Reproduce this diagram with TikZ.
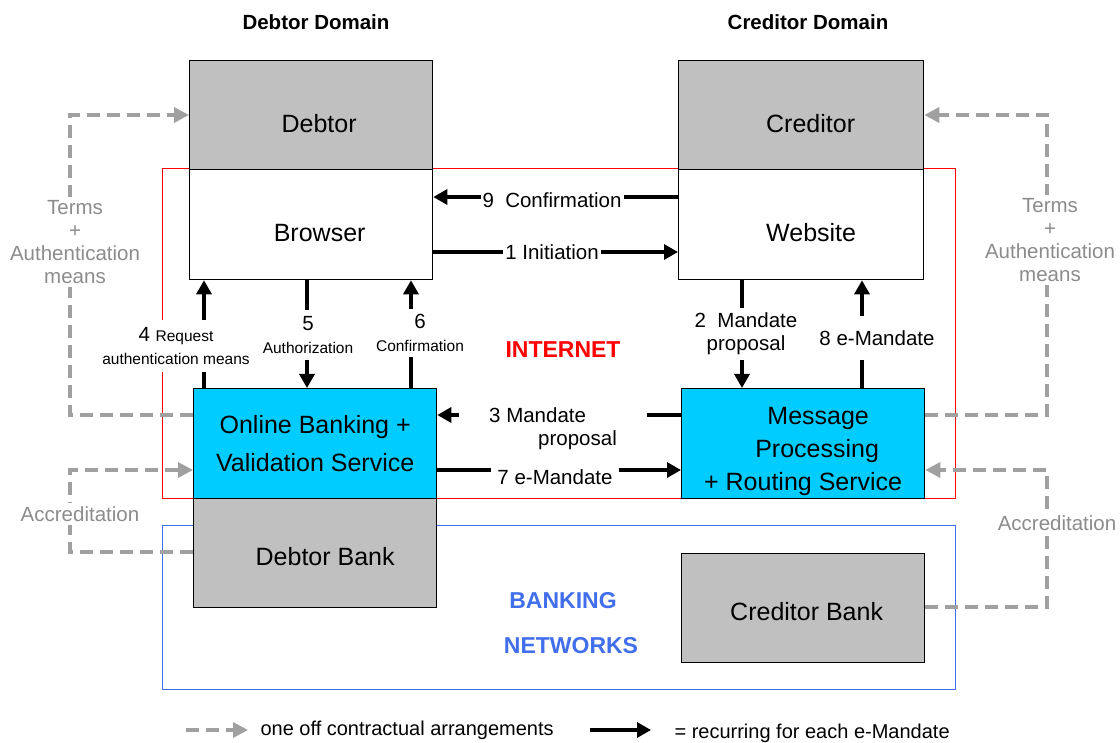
\documentclass[tikz,border=0pt]{standalone}
\usepackage{fontspec}
\setmainfont{Liberation Sans}
\usetikzlibrary{arrows.meta}
\definecolor{boxgray}{RGB}{192,192,192}
\definecolor{svccyan}{RGB}{0,204,255}
\definecolor{dashgray}{RGB}{160,160,160}
\definecolor{labgray}{RGB}{140,140,140}
\definecolor{netblue}{RGB}{65,110,235}
\newcommand\boxfont{\fontsize{25}{30}\selectfont}
\newcommand\msgfont{\fontsize{20.5}{23}\selectfont}
\newcommand\smlfont{\fontsize{15.5}{18}\selectfont}
\begin{document}
\begin{tikzpicture}[x=1pt,y=-1pt,font=\msgfont,
 party/.style={draw,line width=1.3pt,minimum width=243pt,minimum height=109pt,anchor=north west,inner sep=0pt,font=\boxfont,align=center},
 upper/.style={text height=34pt,text depth=0pt},
 flow/.style={line width=3.2pt,-{Triangle[length=14pt,width=15pt]}},
 contract/.style={dashgray,line width=3.5pt,dash pattern=on 13pt off 7pt,-{Triangle[length=15pt,width=15pt]}},
 msg/.style={fill=white,inner sep=2pt,align=center},
 note/.style={labgray,fill=white,align=center,inner sep=3pt}]
 \useasboundingbox (0,0) rectangle (1120,743);
 % domains
 \node[font=\msgfont\bfseries] (dhead) at (316,22) {Debtor Domain};
 \node[font=\msgfont\bfseries] (chead) at (808,22) {Creditor Domain};
 \draw[red,line width=1pt] (162.5,169) rectangle (955,498);
 \draw[netblue,line width=1pt] (162.5,525) rectangle (955,689);
 \node[red,font=\fontsize{23}{26}\selectfont\bfseries] (inet) at (563,350) {INTERNET};
 \node[netblue,font=\fontsize{23}{26}\selectfont\bfseries] (bank1) at (563,601) {BANKING};
 \node[netblue,font=\fontsize{23}{26}\selectfont\bfseries] (bank2) at (571,646) {NETWORKS};
 % parties
 \node[party,upper,fill=boxgray] (debtor) at (189,60) {\hspace*{16pt}Debtor};
 \node[party,upper,fill=white,minimum height=110pt] (browser) at (189,169) {\hspace*{17pt}Browser};
 \node[party,upper,fill=boxgray,minimum width=245pt] (creditor) at (678,60) {\hspace*{19pt}Creditor};
 \node[party,upper,fill=white,minimum width=245pt,minimum height=110pt] (website) at (678,169) {\hspace*{20pt}Website};
 \node[party,fill=svccyan,minimum height=110pt,font=\fontsize{25}{38}\selectfont] (obank) at (193,388) {Online Banking +\\Validation Service};
 \node[party,fill=boxgray,text height=24pt,text depth=0pt] (dbank) at (193,498) {\hspace*{20pt}Debtor Bank};
 \node[party,fill=svccyan,minimum height=110pt,font=\fontsize{25}{33}\selectfont,text height=94pt,text depth=0pt] (mproc) at (681,388) {\hspace*{30pt}Message\\\hspace*{28pt}Processing\\+ Routing Service};
 \node[party,fill=boxgray,text height=25pt,text depth=0pt] (cbank) at (681,553) {\hspace*{7pt}Creditor Bank};
 % contractual arrangements
 \draw[contract] (obank.west |- 0,415) -| (70,115) -- (debtor.west |- 0,115);
 \draw[contract] (dbank.west |- 0,552) -| (70,470) -- (obank.west |- 0,470);
 \draw[contract] (mproc.east |- 0,415) -| (1047,115) -- (creditor.east |- 0,115);
 \draw[contract] (cbank.east |- 0,607) -| (1047,470) -- (mproc.east |- 0,470);
 \node[note] (termsl) at (75,242) {Terms\\+\\Authentication\\means};
 \node[note] (termsr) at (1050,240) {Terms\\+\\Authentication\\means};
 \node[note] (accl) at (80,514) {Accreditation};
 \node[note] (accr) at (1057,523) {Accreditation};
 % recurring flows
 \draw[flow] (browser.east |- 0,252) -- (website.west |- 0,252);
 \draw[flow] (website.south -| 742,0) -- (mproc.north -| 742,0);
 \draw[flow] (mproc.west |- 0,415) -- (obank.east |- 0,415);
 \draw[flow] (obank.north -| 204,0) -- (browser.south -| 204,0);
 \draw[flow] (browser.south -| 307,0) -- (obank.north -| 307,0);
 \draw[flow] (obank.north -| 411,0) -- (browser.south -| 411,0);
 \draw[flow] (obank.east |- 0,470) -- (mproc.west |- 0,470);
 \draw[flow] (mproc.north -| 862,0) -- (website.south -| 862,0);
 \draw[flow] (website.west |- 0,197) -- (browser.east |- 0,197);
 \node[msg] (m1) at (552,252) {1 Initiation};
 \node[msg,inner ysep=5pt] (m2) at (746,334) {2\ \ Mandate\\proposal};
 \node[msg,align=left,inner xsep=30pt,inner ysep=1pt] (m3) at (553,429) {3 Mandate\\\hspace*{49pt}proposal};
 \node[msg,inner ysep=7pt] (m4) at (176,346) {4 {\smlfont Request}\\{\smlfont authentication means}};
 \node[msg,inner ysep=6pt] (m5) at (308,335) {5\\{\smlfont Authorization}};
 \node[msg,inner ysep=5pt] (m6) at (420,333) {6\\{\smlfont Confirmation}};
 \node[msg,inner xsep=6pt] (m7) at (555,477) {7 e-Mandate};
 \node[msg,inner ysep=14pt] (m8) at (877,338) {8 e-Mandate};
 \node[msg] (m9) at (552,200) {9\ \ Confirmation};
 % legend
 \coordinate (cstart) at (186,730);
 \coordinate (cend) at (248,730);
 \draw[contract] (cstart) -- (cend);
 \node[anchor=west,font=\fontsize{20}{23}\selectfont] (clab) at (257,730) {one off contractual arrangements};
 \coordinate (fstart) at (590,730);
 \coordinate (fend) at (651,730);
 \draw[flow] (fstart) -- (fend);
 \node[anchor=west,font=\fontsize{20}{23}\selectfont] (flab) at (671,733) {= recurring for each e-Mandate};
\end{tikzpicture}
\end{document}
